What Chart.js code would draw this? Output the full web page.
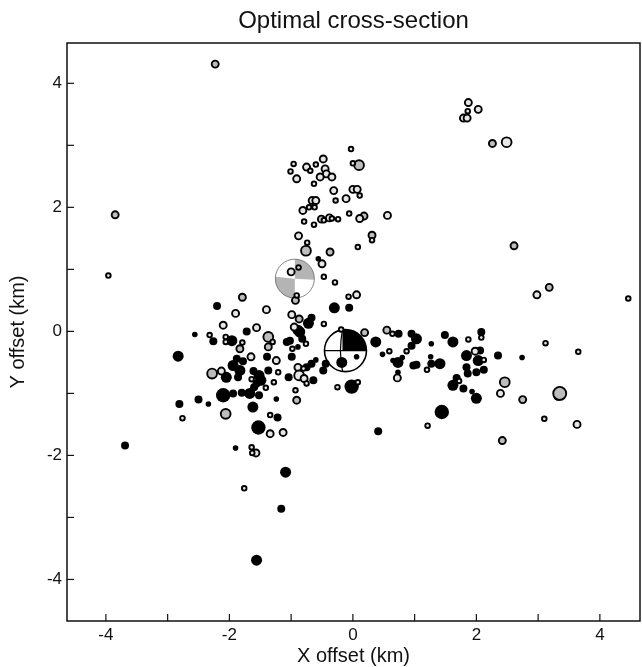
<!DOCTYPE html>
<html>
<head>
<meta charset="utf-8">
<title>Optimal cross-section</title>
<script src="https://cdn.jsdelivr.net/npm/chart.js@4.4.1/dist/chart.umd.min.js"></script>
<style>
  html, body { margin: 0; padding: 0; background: #fff; }
  canvas { display: block; }
</style>
</head>
<body>
<canvas id="chart" width="642" height="667"></canvas>
<script>
// event locations (km), mag = size class 1..4
const blackX = [-2.20, -0.30, -0.06, -0.67, -0.72, -1.72, -0.89, -2.56, -0.56, -2.26, -1.96, -1.39, -1.88, -1.78, -2.83, -2.05, -1.94, -1.83, -1.86, -1.61,
  -1.52, -1.37, -1.49, -1.60, -1.67, -1.52, -1.56, -1.04, -0.99, -1.07, -1.02, -0.86, -0.89, -0.82, -0.67, -0.60, -0.64, -0.48, -0.44, -0.02,
  -1.24, -1.22, -1.53, -2.10, -1.94, -1.80, -2.50, -2.34, -2.81, -3.69, -1.90, -1.09, -1.16, -1.56, -1.62, 0.74, 0.37, 0.95, 1.03, 0.95,
  0.48, 0.65, 0.73, 0.80, 0.73, 0.98, 1.03, 1.27, 1.26, 1.27, 1.41, 1.49, 1.62, 2.08, 1.84, 2.06, 2.03, 1.84, 1.86, 2.00,
  2.12, 2.35, 2.74, 1.68, 1.62, 1.79, 1.93, 2.00, 1.44, 0.41, 3.33, -0.75, -0.18, 0.06];
const blackY = [0.41, 0.38, 0.38, 0.22, 0.13, 0.00, 0.02, -0.05, 1.17, -0.16, -0.15, -0.41, -0.44, -0.48, -0.40, -0.74, -0.55, -0.63, -0.74, -0.64,
  -0.71, -0.63, -0.79, -0.90, -1.00, -1.03, -0.84, -0.74, -0.41, -0.17, -0.15, -0.01, -0.25, -0.12, -0.52, -0.46, -0.79, -0.63, -0.52, -0.89,
  -1.09, -1.39, -1.55, -1.03, -1.00, -0.99, -1.10, -1.17, -1.17, -1.84, -1.88, -2.27, -2.86, -3.69, -1.22, -0.04, -0.17, -0.04, -0.12, -0.23,
  -0.37, -0.47, -0.50, -0.42, -0.66, -0.55, -0.54, -0.20, -0.41, -0.52, -0.52, -0.06, -0.17, -0.01, -0.39, -0.31, -0.47, -0.58, -0.68, -0.66,
  -0.62, -0.39, -0.42, -0.75, -0.87, -0.92, -0.97, -1.08, -1.30, -1.61, -1.03, -0.58, -0.50, -0.41];
const blackMag = [2, 3, 2, 2, 3, 2, 3, 1, 1, 2, 3, 2, 2, 2, 3, 3, 3, 3, 2, 2,
  3, 2, 3, 2, 3, 2, 2, 2, 2, 2, 2, 3, 1, 2, 2, 1, 2, 2, 2, 4,
  1, 2, 4, 4, 2, 2, 2, 1, 2, 2, 1, 3, 2, 3, 3, 2, 3, 2, 3, 2,
  1, 1, 3, 1, 1, 2, 2, 1, 1, 2, 3, 2, 3, 2, 3, 2, 3, 2, 2, 2,
  2, 2, 1, 2, 3, 2, 1, 3, 4, 2, 3, 2, 3, 1];

const grayX = [-2.23, -3.85, 0.10, -0.51, 0.18, -0.76, -0.37, -0.93, -1.79, -0.87, -1.83, -1.37, -1.37, -2.28, -0.91, -2.06, 0.19, 0.55, 2.46, 2.75,
  3.35, 2.42, 2.26, 0.31, 2.61, 3.18];
const grayY = [4.31, 1.88, 2.68, 1.81, 1.86, 1.30, 1.28, 0.50, 0.55, 0.20, -0.28, -0.09, -0.25, -0.68, -1.11, -1.33, -0.02, 0.02, -0.82, -1.10,
  -1.00, -1.76, 3.03, 1.55, 1.38, 0.71];
const grayMag = [2, 2, 3, 2, 2, 3, 2, 2, 2, 2, 2, 3, 2, 3, 2, 3, 2, 2, 3, 2,
  4, 2, 2, 2, 2, 2];

const openX = [-3.96, -0.03, 0.00, -0.48, -0.60, -0.75, -0.69, -0.96, -1.01, -0.91, -0.45, -0.43, -0.53, -0.34, -0.63, -0.31, -0.28, -0.11, 0.00, 0.07,
  0.11, -0.66, -0.60, -0.71, -0.81, -0.62, -0.79, -0.38, -0.47, -0.34, -0.24, -0.63, -0.06, 0.11, 0.08, -0.88, -0.74, -0.50, -1.00, -0.88,
  -0.47, -0.29, -0.91, -1.40, -1.90, -0.07, 0.06, -0.99, -0.47, -2.10, -1.56, -0.95, -2.32, -0.19, 1.87, 1.86, 2.03, 1.79, 1.85, 2.49,
  0.56, 0.31, 2.98, 4.46, -2.06, -2.06, -1.79, -1.30, -1.24, -1.65, -2.13, -1.64, -1.41, -1.28, -1.21, -0.98, -0.76, -0.89, -0.80, -0.87,
  -0.79, -0.75, -0.25, -0.93, -1.34, -1.34, -1.13, -2.76, -1.64, -1.57, -1.63, -1.76, 0.64, 0.87, 0.59, 0.72, 1.20, 1.87, 2.08, 1.98,
  2.12, 3.12, 3.65, 1.72, 2.39, 3.10, 3.63, 1.21, 0.08];
const openY = [0.90, 2.94, 2.71, 2.78, 2.69, 2.65, 2.59, 2.70, 2.58, 2.46, 2.62, 2.54, 2.49, 2.49, 2.38, 2.27, 2.11, 2.14, 2.29, 2.29,
  2.19, 2.11, 2.11, 2.00, 1.95, 2.00, 1.77, 1.83, 1.79, 1.82, 1.81, 1.72, 1.90, 1.82, 1.36, 1.54, 1.43, 1.09, 0.96, 1.03,
  0.88, 0.79, 0.58, 0.35, 0.29, 0.56, 0.59, 0.27, 0.12, 0.10, 0.06, 0.07, -0.06, 0.03, 3.69, 3.55, 3.58, 3.44, 3.44, 3.05,
  1.87, 1.47, 0.59, 0.53, -0.09, -0.17, -0.18, -0.17, -0.47, -0.41, -0.64, -0.77, -0.91, -0.82, -0.66, -0.28, -0.20, -0.58, -0.60, -0.71,
  -0.76, -0.84, -0.90, -0.95, -1.35, -1.65, -1.63, -1.40, -1.87, -1.96, -1.96, -2.53, -0.04, -0.32, -0.32, -0.75, -0.62, -0.13, -0.10, -0.32,
  -0.46, -0.19, -0.33, -0.80, -1.00, -1.41, -1.50, -1.52, -0.82];
const openMag = [1, 1, 1, 2, 1, 2, 1, 1, 1, 2, 2, 2, 2, 2, 1, 2, 1, 2, 2, 2,
  1, 2, 2, 1, 2, 1, 1, 2, 1, 1, 1, 1, 1, 2, 1, 2, 1, 2, 2, 1,
  1, 1, 1, 2, 2, 1, 2, 2, 1, 2, 2, 2, 1, 1, 2, 1, 2, 2, 2, 3,
  2, 1, 2, 1, 1, 1, 1, 1, 2, 2, 2, 1, 1, 1, 1, 1, 1, 2, 1, 3,
  2, 1, 1, 1, 1, 2, 2, 1, 1, 2, 1, 1, 1, 1, 1, 2, 1, 1, 1, 2,
  1, 1, 1, 1, 2, 1, 2, 1, 1];

// focal mechanisms (beach balls)
const mechX = [-0.94, -0.12];
const mechY = [0.85, -0.31];

const tickValues = [-4, -3, -2, -1, 0, 1, 2, 3, 4];
const xMin = -4.63, xMax = 4.65, yMin = -4.67, yMax = 4.65;

function toPoints(xs, ys) {
    const pts = [];
    for (let i = 0; i < xs.length; i++) {
        pts.push({ x: xs[i], y: ys[i] });
    }
    return pts;
}

const ringR = [0, 2.3, 3.5, 4.9, 6.5];
const dotR = [0, 2.8, 4.0, 5.5, 7.2];

const FONT = "'Liberation Sans', Arial, Helvetica, sans-serif";

// draws the two focal mechanisms under the events
const mechPlugin = {
    id: 'mech',
    beforeDatasetsDraw(chart) {
        const ctx = chart.ctx;
        const xs = chart.scales.x, ys = chart.scales.y;
        for (let i = 0; i < mechX.length; i++) {
            const cx = xs.getPixelForValue(mechX[i]);
            const cy = ys.getPixelForValue(mechY[i]);
            ctx.save();
            if (i === 0) {
                const r = 19.5;
                ctx.fillStyle = '#ffffff';
                ctx.beginPath(); ctx.arc(cx, cy, r, 0, Math.PI * 2); ctx.fill();
                ctx.fillStyle = '#b4b4b4';
                ctx.beginPath(); ctx.moveTo(cx, cy); ctx.arc(cx, cy, r, -Math.PI / 2, 0.05); ctx.closePath(); ctx.fill();
                ctx.beginPath(); ctx.moveTo(cx, cy); ctx.arc(cx, cy, r, Math.PI / 2, Math.PI + 0.1); ctx.closePath(); ctx.fill();
                ctx.strokeStyle = '#666';
                ctx.lineWidth = 0.8;
                ctx.beginPath(); ctx.arc(cx, cy, r, 0, Math.PI * 2); ctx.stroke();
            } else {
                const r = 21;
                ctx.fillStyle = '#ffffff';
                ctx.beginPath(); ctx.arc(cx, cy, r, 0, Math.PI * 2); ctx.fill();
                ctx.fillStyle = '#000';
                ctx.beginPath(); ctx.moveTo(cx - 3, cy); ctx.lineTo(cx - 3, cy - r + 0.3); ctx.arc(cx, cy, r, -Math.PI / 2 - 0.15, 0); ctx.closePath(); ctx.fill();
                ctx.strokeStyle = '#000';
                ctx.lineWidth = 1.2;
                ctx.beginPath(); ctx.moveTo(cx - 3, cy - r + 0.5); ctx.quadraticCurveTo(cx - 7, cy, cx - 3, cy + r - 0.5); ctx.stroke();
                ctx.beginPath(); ctx.moveTo(cx - r, cy); ctx.lineTo(cx + r, cy); ctx.stroke();
                ctx.lineWidth = 1.6;
                ctx.beginPath(); ctx.arc(cx, cy, r, 0, Math.PI * 2); ctx.stroke();
            }
            ctx.restore();
        }
    }
};

// box frame with inward ticks
const framePlugin = {
    id: 'frame',
    afterDraw(chart) {
        const ctx = chart.ctx;
        const a = chart.chartArea;
        ctx.save();
        ctx.strokeStyle = '#111';
        ctx.lineWidth = 1.5;
        ctx.strokeRect(a.left, a.top, a.right - a.left, a.bottom - a.top);
        ctx.lineWidth = 1.2;
        chart.scales.x.ticks.forEach(t => {
            const px = chart.scales.x.getPixelForValue(t.value);
            ctx.beginPath(); ctx.moveTo(px, a.bottom); ctx.lineTo(px, a.bottom - 7); ctx.stroke();
        });
        chart.scales.y.ticks.forEach(t => {
            const py = chart.scales.y.getPixelForValue(t.value);
            ctx.beginPath(); ctx.moveTo(a.left, py); ctx.lineTo(a.left + 7, py); ctx.stroke();
        });
        ctx.restore();
    }
};

new Chart(document.getElementById('chart'), {
    type: 'scatter',
    data: {
        datasets: [{
            label: 'open',
            data: toPoints(openX, openY),
            backgroundColor: '#e6e6e6',
            borderColor: '#000',
            borderWidth: 1.9,
            pointRadius: c => ringR[openMag[c.dataIndex]]
        }, {
            label: 'gray',
            data: toPoints(grayX, grayY),
            backgroundColor: '#bdbdbd',
            borderColor: '#000',
            borderWidth: 1.9,
            pointRadius: c => ringR[grayMag[c.dataIndex]]
        }, {
            label: 'black',
            data: toPoints(blackX, blackY),
            backgroundColor: '#000',
            borderColor: '#000',
            borderWidth: 0,
            pointRadius: c => dotR[blackMag[c.dataIndex]]
        }]
    },
    options: {
        responsive: false,
        animation: false,
        devicePixelRatio: 1,
        layout: { autoPadding: false, padding: { right: 2 } },
        plugins: {
            legend: { display: false },
            tooltip: { enabled: false },
            title: {
                display: true,
                fullSize: false,
                text: 'Optimal cross-section',
                color: '#111',
                font: { family: FONT, size: 24, weight: 'normal' },
                padding: { top: 6.6, bottom: 7.6 }
            }
        },
        scales: {
            x: {
                type: 'linear',
                min: xMin,
                max: xMax,
                afterFit: s => { s.height = 46; s.paddingLeft = 0; s.paddingRight = 0; },
                afterBuildTicks: s => { s.ticks = tickValues.map(v => ({ value: v })); },
                grid: { display: false, drawTicks: false },
                border: { display: false },
                ticks: {
                    color: '#111',
                    padding: 4,
                    maxRotation: 0,
                    autoSkip: false,
                    font: { family: FONT, size: 17 },
                    callback: v => (v % 2 === 0 ? String(v) : '')
                },
                title: {
                    display: true,
                    text: 'X offset (km)',
                    color: '#111',
                    font: { family: FONT, size: 20 },
                    padding: { top: 0, bottom: -1 }
                }
            },
            y: {
                type: 'linear',
                min: yMin,
                max: yMax,
                afterFit: s => { s.width = 67; s.paddingTop = 0; s.paddingBottom = 0; },
                afterBuildTicks: s => { s.ticks = tickValues.map(v => ({ value: v })); },
                grid: { display: false, drawTicks: false },
                border: { display: false },
                ticks: {
                    color: '#111',
                    padding: 5,
                    autoSkip: false,
                    font: { family: FONT, size: 17 },
                    callback: v => (v % 2 === 0 ? String(v) : '')
                },
                title: {
                    display: true,
                    text: 'Y offset (km)',
                    color: '#111',
                    font: { family: FONT, size: 20 },
                    padding: { top: 6, bottom: 0 }
                }
            }
        }
    },
    plugins: [mechPlugin, framePlugin]
});
</script>
</body>
</html>
